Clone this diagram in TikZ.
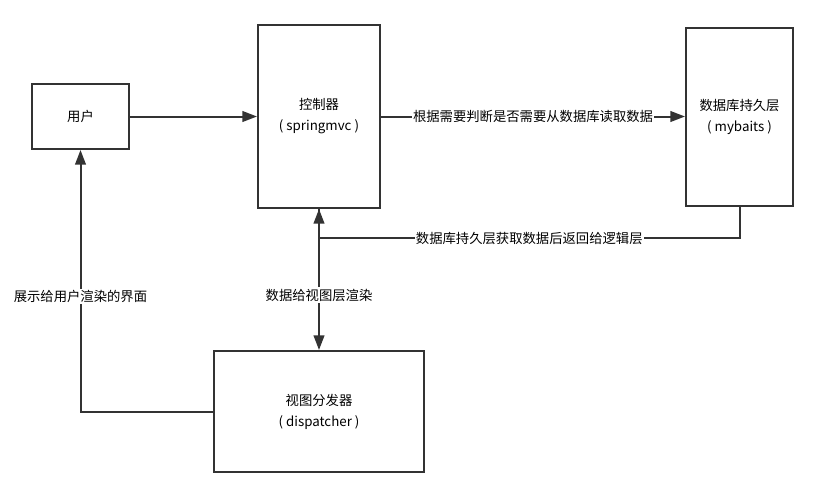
\documentclass[tikz,border=0pt]{standalone}
\usepackage{fontspec}
\setmainfont{Noto Sans CJK SC}
\usetikzlibrary{arrows.meta,calc}
\definecolor{trait}{HTML}{333333}
\tikzset{
	boite/.style={draw=trait, line width=1.5pt, align=center, inner sep=0pt, font=\fontsize{10}{15.75}\selectfont},
	fleche/.style={draw=trait, line width=1.5pt, -{Triangle[length=11pt,width=8pt]}},
	etiq/.style={fill=white, inner sep=1pt, font=\fontsize{10}{12}\selectfont}
}
\begin{document}
\begin{tikzpicture}[x=0.75pt,y=-0.75pt]
	\useasboundingbox (0,0) rectangle (817,497);
	% les boites
	\node[boite, minimum width=72.75pt, minimum height=48.75pt] (user) at (80.5,116.5) {用户};
	\node[boite, minimum width=91.5pt, minimum height=137.25pt] (ctrl) at (319,116.5) {控制器\\( springmvc )};
	\node[boite, minimum width=80.25pt, minimum height=133.5pt] (db) at (739.5,117) {数据库持久层\\( mybaits )};
	\node[boite, minimum width=157.5pt, minimum height=90.75pt] (view) at (319,411.5) {视图分发器\\( dispatcher )};
	% les fleches
	\draw[fleche] (user.east) -- (ctrl.west);
	\draw[fleche] (ctrl.east) -- (ctrl.east -| db.west) node[etiq, midway]{根据需要判断是否需要从数据库读取数据};
	\coordinate (retour) at ($(db.south)+(0,31)$);
	\draw[fleche] (db.south) -- (retour) -| (ctrl.south) node[etiq, pos=0.25]{数据库持久层获取数据后返回给逻辑层};
	\draw[fleche] (ctrl.south) -- (view.north) node[etiq, pos=0.61]{数据给视图层渲染};
	\draw[fleche] (view.west) -| (user.south) node[etiq, pos=0.72]{展示给用户渲染的界面};
\end{tikzpicture}
\end{document}
